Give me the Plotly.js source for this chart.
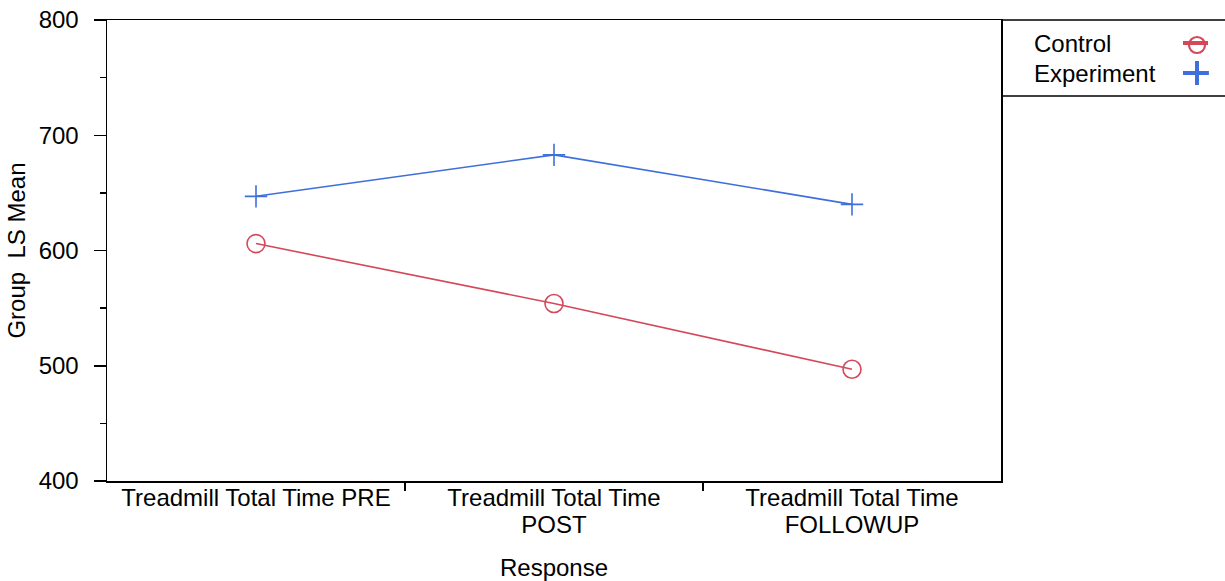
<!DOCTYPE html>
<html>
<head>
<meta charset="utf-8">
<script src="https://cdn.plot.ly/plotly-3.0.1.min.js"></script>
<style>html,body{margin:0;padding:0;background:#fff;}#chart{width:1225px;height:581px;}</style>
</head>
<body>
<div id="chart"></div>
<script>
// ---- data ----
var categoryLine1 = ["Treadmill Total Time PRE", "Treadmill Total Time", "Treadmill Total Time"];
var categoryLine2 = ["", "POST", "FOLLOWUP"];
var controlMeans = [606, 554, 497];
var experimentMeans = [647, 683, 640];
var seriesNames = ["Control", "Experiment"];
var yTicks = [400, 500, 600, 700, 800];

// ---- styles ----
var RED = "#d4485a";
var BLUE = "#3f6fdc";
var FONT = "Liberation Sans, Arial, sans-serif";
var FS = 24;
var W = 1225, H = 581;
var mL = 107, mR = 0, mT = 20, mB = 100;
var plotRight = 1001;
var xDomEnd = (plotRight - mL) / (W - mL - mR);
var legendBottom = 96;
var yDom2Start = (H - mB - legendBottom) / (H - mT - mB);

var xIdx = categoryLine1.map(function (_, i) { return i; });
var xRange = [-0.5, categoryLine1.length - 0.5];
var boundaries = xIdx.slice(1).map(function (i) { return i - 0.5; });

var traces = [
  {
    x: xIdx, y: controlMeans, name: seriesNames[0], type: "scatter", mode: "lines+markers",
    line: {color: RED, width: 1.6},
    marker: {symbol: "circle-open", size: 18, color: RED, line: {color: RED, width: 1.6}},
    showlegend: false, xaxis: "x", yaxis: "y"
  },
  {
    x: xIdx, y: experimentMeans, name: seriesNames[1], type: "scatter", mode: "lines+markers",
    line: {color: BLUE, width: 1.6},
    marker: {symbol: "cross-thin-open", size: 16, color: BLUE, line: {color: BLUE, width: 1.6}},
    showlegend: false, xaxis: "x", yaxis: "y"
  },
  // invisible carrier so the second-line label axis is drawn
  {
    x: xIdx, y: controlMeans, type: "scatter", mode: "markers",
    marker: {opacity: 0, size: 1}, showlegend: false, hoverinfo: "skip", xaxis: "x3", yaxis: "y"
  },
  // custom legend samples (legend panel axes, pixel-like units)
  {
    x: [182, 207], y: [23, 23], type: "scatter", mode: "lines",
    line: {color: RED, width: 4}, showlegend: false, hoverinfo: "skip", xaxis: "x2", yaxis: "y2"
  },
  {
    x: [196], y: [25], type: "scatter", mode: "markers",
    marker: {symbol: "circle-open", size: 16, color: RED, line: {color: RED, width: 2.2}},
    showlegend: false, hoverinfo: "skip", xaxis: "x2", yaxis: "y2"
  },
  {
    x: [182, 207], y: [53, 53], type: "scatter", mode: "lines",
    line: {color: BLUE, width: 4}, showlegend: false, hoverinfo: "skip", xaxis: "x2", yaxis: "y2"
  },
  {
    x: [196], y: [53], type: "scatter", mode: "markers",
    marker: {symbol: "cross-thin-open", size: 17, color: BLUE, line: {color: BLUE, width: 4}},
    showlegend: false, hoverinfo: "skip", xaxis: "x2", yaxis: "y2"
  }
];

var tickFont = {family: FONT, size: FS, color: "#000"};

var layout = {
  width: W, height: H,
  margin: {l: mL, r: mR, t: mT, b: mB, pad: 0},
  paper_bgcolor: "#fff", plot_bgcolor: "#fff",
  font: {family: FONT, size: FS, color: "#000"},
  showlegend: false,
  xaxis: {
    domain: [0, xDomEnd], anchor: "y",
    range: xRange,
    tickmode: "array", tickvals: xIdx, ticktext: categoryLine1,
    ticks: "", ticklen: 0, ticklabelstandoff: -5, showgrid: false, zeroline: false,
    showline: true, mirror: true, linecolor: "#000", linewidth: 1.5,
    tickfont: tickFont,
    minor: {tickmode: "array", tickvals: boundaries, ticks: "outside", ticklen: 8, tickwidth: 1.5, tickcolor: "#000", showgrid: false},
    title: {text: "Response", font: tickFont, standoff: 49}
  },
  xaxis3: {
    domain: [0, xDomEnd], anchor: "y", overlaying: "x", side: "bottom",
    range: xRange,
    tickmode: "array", tickvals: xIdx, ticktext: categoryLine2,
    ticks: "", ticklen: 0, ticklabelstandoff: 27,
    showgrid: false, zeroline: false, showline: false,
    tickfont: tickFont
  },
  yaxis: {
    domain: [0, 1], anchor: "x",
    range: [400, 800],
    tickmode: "array", tickvals: yTicks,
    ticks: "outside", ticklen: 12, tickwidth: 1.5, tickcolor: "#000",
    ticklabelstandoff: 10,
    showgrid: false, zeroline: false,
    showline: true, mirror: true, linecolor: "#000", linewidth: 1.5,
    tickfont: tickFont,
    minor: {dtick: 50, tick0: 450, ticks: "outside", ticklen: 6, tickwidth: 1.5, tickcolor: "#000", showgrid: false},
    title: {text: "Group  LS Mean", font: tickFont, standoff: 6}
  },
  xaxis2: {
    domain: [xDomEnd, 1], anchor: "y2", range: [0, 224],
    visible: false, fixedrange: true
  },
  yaxis2: {
    domain: [yDom2Start, 1], anchor: "x2", range: [76, 0],
    visible: false, fixedrange: true
  },
  shapes: [
    {type: "line", xref: "x2 domain", yref: "y2 domain", x0: 0, x1: 1, y0: 1, y1: 1, line: {color: "#000", width: 1.5}},
    {type: "line", xref: "x2 domain", yref: "y2 domain", x0: 0, x1: 1, y0: 0, y1: 0, line: {color: "#000", width: 1.5}}
  ],
  annotations: [
    {xref: "x2", yref: "y2", x: 31, y: 23, text: seriesNames[0], showarrow: false, xanchor: "left", yanchor: "middle", font: tickFont},
    {xref: "x2", yref: "y2", x: 31, y: 53, text: seriesNames[1], showarrow: false, xanchor: "left", yanchor: "middle", font: tickFont}
  ]
};

Plotly.newPlot("chart", traces, layout, {displayModeBar: false, staticPlot: true});
</script>
</body>
</html>
